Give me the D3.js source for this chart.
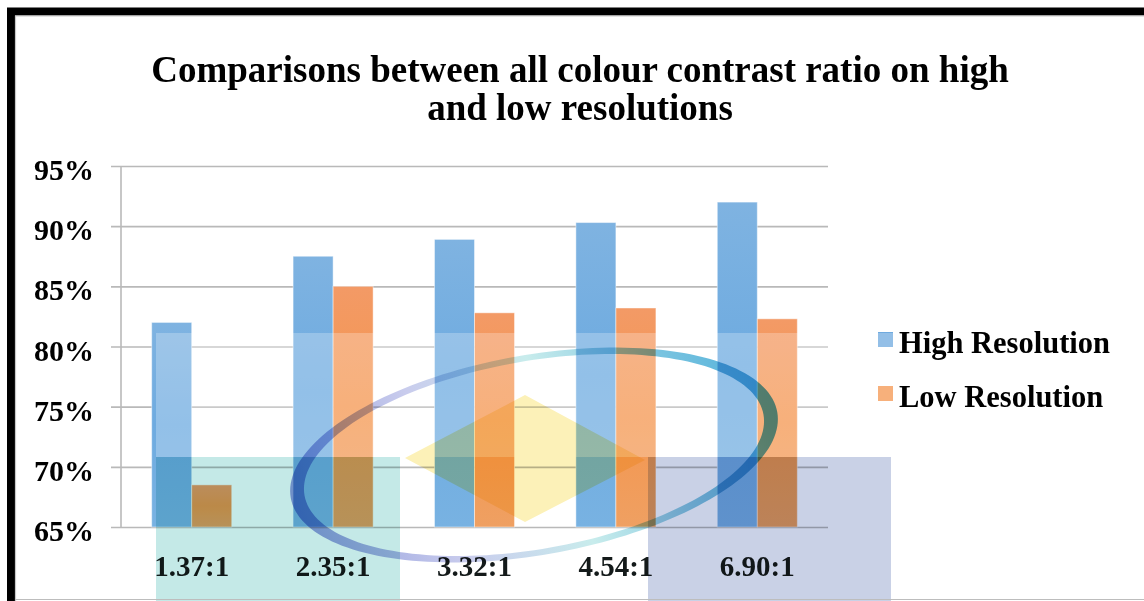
<!DOCTYPE html>
<html>
<head>
<meta charset="utf-8">
<script src="https://cdn.jsdelivr.net/npm/d3@7"></script>
<style>
  html, body { margin: 0; padding: 0; background: #fff; overflow: hidden; }
  svg { display: block; }
  text { font-family: "Liberation Serif", "Times New Roman", serif; font-weight: bold; }
</style>
</head>
<body>
<svg id="chart" width="1144" height="601"></svg>
<script>
// ---- data ----
const categories = ["1.37:1", "2.35:1", "3.32:1", "4.54:1", "6.90:1"];
const seriesNames = ["High Resolution", "Low Resolution"];
const highValues = [0.820, 0.875, 0.889, 0.903, 0.920];
const lowValues  = [0.685, 0.850, 0.828, 0.832, 0.823];
const yTicks = [0.65, 0.70, 0.75, 0.80, 0.85, 0.90, 0.95];
const titleLines = ["Comparisons between all colour contrast ratio on high", "and low resolutions"];

const seriesKeys = ["high", "low"];
const rows = categories.map((c, i) => ({ cat: c, high: highValues[i], low: lowValues[i] }));

// ---- layout ----
const W = 1144, H = 601;
const plot = { left: 121, right: 828, top: 166, bottom: 527 };
const svg = d3.select("#chart");
const defs = svg.append("defs");
const serif = "\"Liberation Serif\", \"Times New Roman\", serif";

svg.append("rect").attr("width", W).attr("height", H).attr("fill", "#fff");

const x0 = d3.scaleBand().domain(categories).range([plot.left, plot.right])
  .paddingInner(0.434).paddingOuter(0.217);
const x1 = d3.scaleBand().domain(seriesKeys).range([0, x0.bandwidth()]).padding(0);
const y = d3.scaleLinear().domain([0.65, 0.95]).range([plot.bottom, plot.top]);
const fmt = d3.format(".0%");

// bar fills
function vGrad(id, stops) {
  const g = defs.append("linearGradient").attr("id", id)
    .attr("x1", 0).attr("y1", 0).attr("x2", 0).attr("y2", 1);
  stops.forEach(([o, c]) => g.append("stop").attr("offset", o).attr("stop-color", c));
}
vGrad("gHigh", [[0, "#7fb3e1"], [0.5, "#6eabe0"], [1, "#78b2e2"]]);
vGrad("gLow",  [[0, "#f39a66"], [0.5, "#f4964f"], [1, "#efa062"]]);
const fills = { high: "url(#gHigh)", low: "url(#gLow)" };
const legendFills = { high: "#6faadf", low: "#f4964f" };

// ---- title ----
svg.append("g").selectAll("text").data(titleLines).join("text")
  .attr("x", 580).attr("y", (d, i) => 82 + i * 38)
  .attr("text-anchor", "middle").attr("font-size", 37).attr("fill", "#000")
  .text(d => d);

// ---- y axis with gridlines ----
const yAxis = svg.append("g").attr("transform", "translate(111,0)")
  .call(d3.axisLeft(y).tickValues(yTicks).tickFormat(fmt)
    .tickSize(-(plot.right - 111)).tickPadding(17));
yAxis.select(".domain").remove();
yAxis.selectAll(".tick line").attr("stroke", "#b9b9b9").attr("stroke-width", 1.6);
yAxis.selectAll(".tick text").attr("font-size", 30).attr("fill", "#000")
  .attr("font-family", serif).attr("font-weight", "bold").attr("dy", "0.45em");

svg.append("line").attr("x1", plot.left).attr("x2", plot.left)
  .attr("y1", plot.top).attr("y2", plot.bottom)
  .attr("stroke", "#b9b9b9").attr("stroke-width", 1.6);

// ---- x axis labels ----
const xAxis = svg.append("g").attr("transform", `translate(0,${plot.bottom})`)
  .call(d3.axisBottom(x0).tickSize(0).tickPadding(0));
xAxis.select(".domain").remove();
xAxis.selectAll(".tick text").attr("font-size", 29).attr("fill", "#141a1a")
  .attr("font-family", serif).attr("font-weight", "bold").attr("y", 0).attr("dy", 49);

// ---- bars ----
svg.append("g").selectAll("g").data(rows).join("g")
  .attr("transform", d => `translate(${x0(d.cat)},0)`)
  .selectAll("rect").data(d => seriesKeys.map(k => ({ key: k, value: d[k] }))).join("rect")
  .attr("x", d => x1(d.key)).attr("width", x1.bandwidth())
  .attr("y", d => y(d.value)).attr("height", d => y(0.65) - y(d.value))
  .attr("fill", d => fills[d.key])
  .attr("stroke", "#ffffff").attr("stroke-opacity", 0.45).attr("stroke-width", 1);

// ---- legend ----
const legend = svg.append("g").selectAll("g").data(seriesKeys).join("g")
  .attr("transform", (d, i) => `translate(878,${332 + i * 54})`);
legend.append("rect").attr("width", 15).attr("height", 15).attr("fill", d => legendFills[d]);
legend.append("text").attr("x", 21).attr("y", 21).attr("font-size", 30.5).attr("fill", "#000")
  .text((d, i) => seriesNames[i]);

// ---- logo watermark over the plot ----
const mark = svg.append("g").attr("class", "watermark");
mark.append("rect").attr("x", 156).attr("y", 333).attr("width", 737).attr("height", 124)
  .attr("fill", "#fff").attr("opacity", 0.25);
mark.append("rect").attr("x", 156).attr("y", 457).attr("width", 244).attr("height", 150)
  .attr("fill", "#c4e9e7").style("mix-blend-mode", "multiply");
mark.append("rect").attr("x", 648).attr("y", 457).attr("width", 243).attr("height", 150)
  .attr("fill", "#c9d1e6").style("mix-blend-mode", "multiply");
mark.append("path").attr("d", "M405,458 L525,395 L645,460 L525,522 Z")
  .attr("fill", "#fcf1b8").style("mix-blend-mode", "multiply");

// tilted ring: outer and inner ellipse, filled even-odd so the band is thick at the sides
function ellipsePoints(cx, cy, rx, ry, deg) {
  const th = deg * Math.PI / 180, pts = [];
  for (let i = 0; i < 180; i++) {
    const t = i / 180 * 2 * Math.PI;
    pts.push([cx + rx * Math.cos(t) * Math.cos(th) - ry * Math.sin(t) * Math.sin(th),
              cy + rx * Math.cos(t) * Math.sin(th) + ry * Math.sin(t) * Math.cos(th)]);
  }
  return "M" + pts.map(p => p.join(",")).join("L") + "Z";
}
const ring = defs.append("linearGradient").attr("id", "gRing")
  .attr("gradientUnits", "userSpaceOnUse")
  .attr("x1", 300).attr("y1", 540).attr("x2", 770).attr("y2", 370);
[[0, "#8e9bdc"], [0.3, "#c9cced"], [0.55, "#c8ecec"], [0.8, "#7ac4e0"], [1, "#4fb0da"]]
  .forEach(([o, c]) => ring.append("stop").attr("offset", o).attr("stop-color", c));
mark.append("path")
  .attr("d", ellipsePoints(534, 455, 247, 100, -10) + ellipsePoints(534, 455, 233, 94, -10))
  .attr("fill", "url(#gRing)").attr("fill-rule", "evenodd")
  .style("mix-blend-mode", "multiply");

// ---- frame ----
svg.append("path").attr("d", `M11,${H + 10} L11,11.5 L${W + 10},11.5`)
  .attr("fill", "none").attr("stroke", "#000").attr("stroke-width", 8);
svg.append("path").attr("d", `M15.5,${H} L15.5,16 L${W},16`)
  .attr("fill", "none").attr("stroke", "#c8c8c8").attr("stroke-width", 1.2);
svg.append("line").attr("x1", 15).attr("x2", W).attr("y1", 599.5).attr("y2", 599.5)
  .attr("stroke", "#bdbdbd").attr("stroke-width", 1.2);
</script>
</body>
</html>
